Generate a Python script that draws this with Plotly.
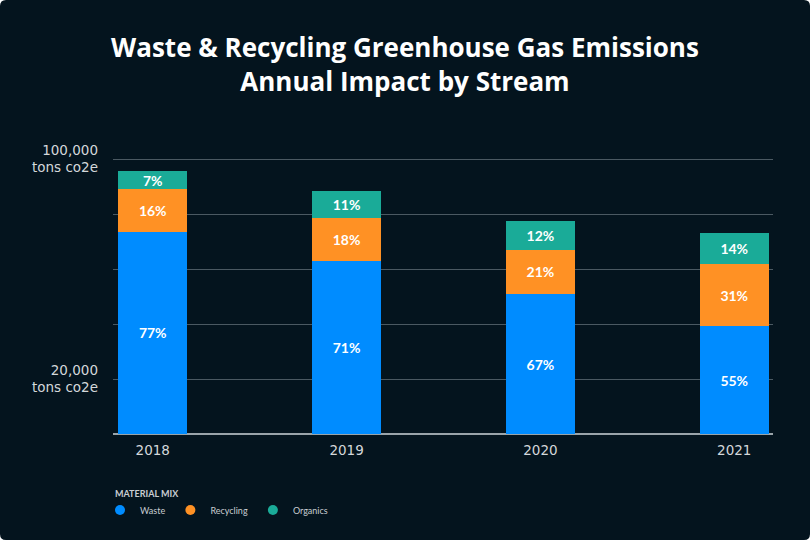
import plotly.graph_objects as go

# values (tons CO2e)
years = ["2018", "2019", "2020", "2021"]
waste = [73500, 62800, 50900, 39100]
recycling = [15500, 15650, 16150, 22700]
organics = [6700, 9750, 10300, 11150]

waste_pct = ["77%", "71%", "67%", "55%"]
recycling_pct = ["16%", "18%", "21%", "31%"]
organics_pct = ["7%", "11%", "12%", "14%"]

tick_vals = [20000, 40000, 60000, 80000, 100000]
tick_text = ["20,000<br>tons co2e", "", "", "", "100,000<br>tons co2e"]

series = [
    ("Waste", waste, waste_pct, "#008cff"),
    ("Recycling", recycling, recycling_pct, "#ff9124"),
    ("Organics", organics, organics_pct, "#1aab98"),
]

BG = "#04141e"
W, H = 810, 540
L, R, T, B = 113, 37, 148, 106
TICK_FONT = dict(family="DejaVu Sans", size=13.5, color="#d4d8db")

fig = go.Figure()

for name, vals, pct, color in series:
    fig.add_trace(go.Bar(
        x=years, y=vals, name=name,
        marker=dict(color=color, line=dict(width=0)),
        text=pct, textposition="inside", insidetextanchor="middle",
        textangle=0, constraintext="none",
        textfont=dict(family="Lato", size=14, color="white", weight=700),
        width=0.355, showlegend=False, hoverinfo="skip",
    ))
    # circle legend entries
    fig.add_trace(go.Scatter(
        x=[None], y=[None], mode="markers", name=name,
        marker=dict(color=color, size=10, symbol="circle"),
        showlegend=True,
    ))

# rounded dark card behind everything
pw, ph = W - L - R, H - T - B
x0, x1 = -L / pw, 1 + R / pw
y0, y1 = -B / ph, 1 + T / ph
rx, ry = 6 / pw, 6 / ph
card = (f"M {x0+rx},{y0} L {x1-rx},{y0} Q {x1},{y0} {x1},{y0+ry} "
        f"L {x1},{y1-ry} Q {x1},{y1} {x1-rx},{y1} L {x0+rx},{y1} "
        f"Q {x0},{y1} {x0},{y1-ry} L {x0},{y0+ry} Q {x0},{y0} {x0+rx},{y0} Z")

fig.update_layout(
    width=W, height=H,
    barmode="stack",
    paper_bgcolor="white",
    plot_bgcolor="rgba(0,0,0,0)",
    margin=dict(l=L, r=R, t=T, b=B, pad=0),
    shapes=[dict(type="path", path=card, xref="paper", yref="paper",
                 fillcolor=BG, line=dict(width=0), layer="below")],
    title=dict(
        text="Waste & Recycling Greenhouse Gas Emissions<br>Annual Impact by Stream",
        x=0.5, xanchor="center", y=1 - 57 / H, yanchor="middle",
        font=dict(family="Open Sans", size=26, color="white", weight=700),
    ),
    xaxis=dict(
        range=[-0.205, 3.2], showgrid=False, showline=False, zeroline=False,
        tickfont=TICK_FONT, ticks="", ticklabelstandoff=6,
    ),
    yaxis=dict(
        range=[0, 104000], tickvals=tick_vals, ticktext=tick_text,
        showgrid=True, gridcolor="#4b5962", gridwidth=1,
        zeroline=True, zerolinecolor="#9aa4aa", zerolinewidth=2,
        showline=False, ticks="", ticklabelstandoff=14,
        tickfont=TICK_FONT,
    ),
    legend=dict(
        orientation="h", x=-0.0197, xanchor="left", y=-0.215, yanchor="top",
        traceorder="normal",
        font=dict(family="Lato", size=9, color="#c8cdd1"),
        bgcolor="rgba(0,0,0,0)", itemwidth=30, tracegroupgap=0,
    ),
    annotations=[dict(
        text="<b>MATERIAL MIX</b>", xref="paper", yref="paper",
        x=0, y=-(493 - 434) / ph, xanchor="left", yanchor="middle",
        showarrow=False, font=dict(family="Lato", size=9, color="#c8cdd1"),
    )],
    font=dict(family="Lato", color="#d4d8db"),
)

fig.write_html(
    "out.html", config={"displayModeBar": False},
    post_script="document.body.style.margin='0';"
                "document.body.style.overflow='hidden';",
)
